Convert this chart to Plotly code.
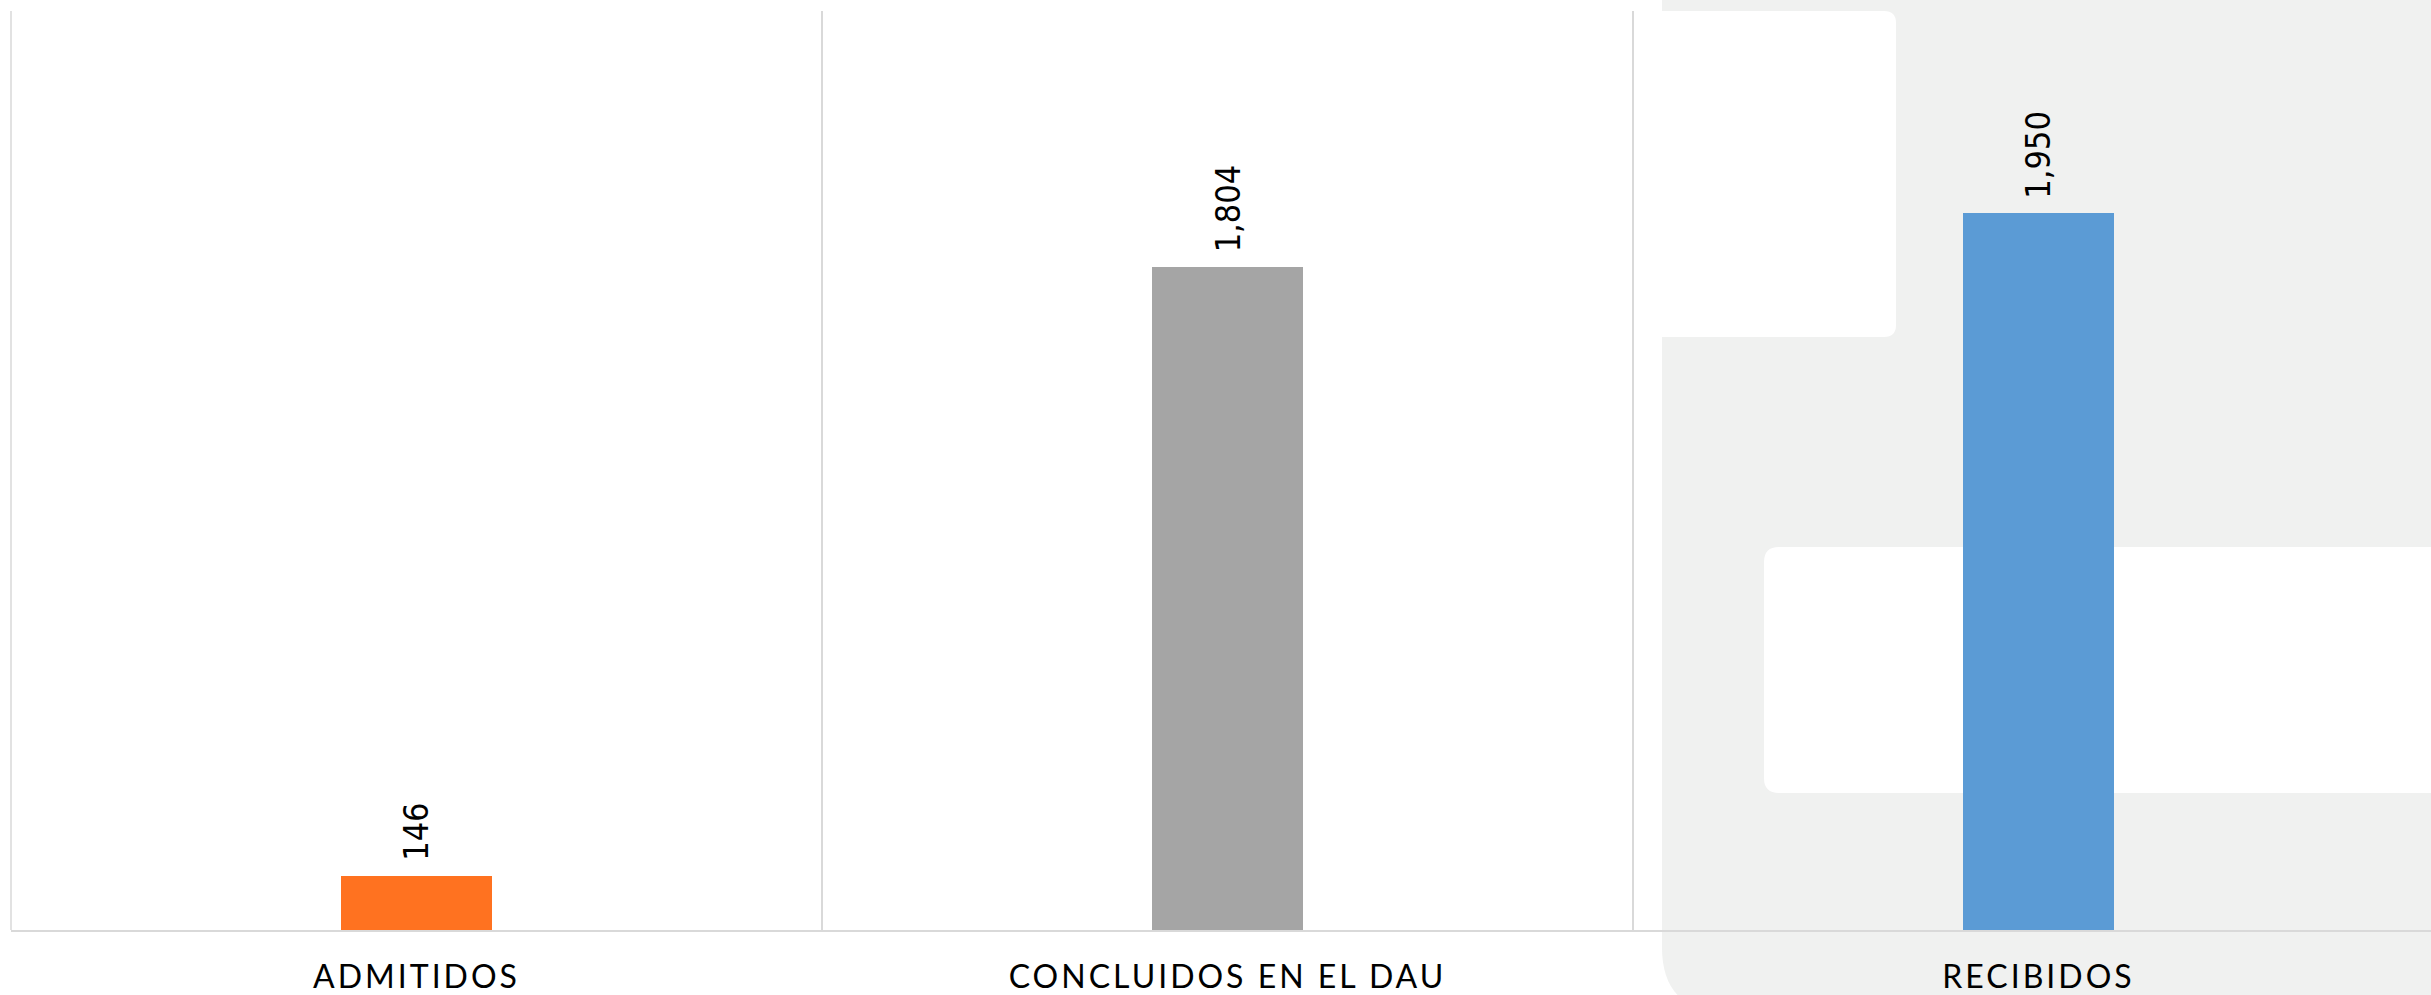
import plotly.graph_objects as go

categories = ["ADMITIDOS", "CONCLUIDOS EN EL DAU", "RECIBIDOS"]
values = [146, 1804, 1950]
labels = ["146", "1,804", "1,950"]
colors = ["#FF7220", "#A5A5A5", "#5B9BD5"]

W, H = 2431, 995
ML, MT, MB, MR = 11, 11, 65, 0
PW, PH = W - ML - MR, H - MT - MB


def P(x, y):
    return (x - ML) / PW, (H - MB - y) / PH


def rrect(x0, y0, x1, y1, r_tl=0, r_tr=0, r_br=0, r_bl=0):
    def pt(x, y):
        X, Y = P(x, y)
        return f"{X:.5f},{Y:.5f}"
    s = f"M{pt(x0 + r_tl, y0)} L{pt(x1 - r_tr, y0)} "
    if r_tr:
        s += f"Q{pt(x1, y0)} {pt(x1, y0 + r_tr)} "
    s += f"L{pt(x1, y1 - r_br)} "
    if r_br:
        s += f"Q{pt(x1, y1)} {pt(x1 - r_br, y1)} "
    s += f"L{pt(x0 + r_bl, y1)} "
    if r_bl:
        s += f"Q{pt(x0, y1)} {pt(x0, y1 - r_bl)} "
    s += f"L{pt(x0, y0 + r_tl)} "
    if r_tl:
        s += f"Q{pt(x0, y0)} {pt(x0 + r_tl, y0)} "
    return s + "Z"


BG_GRAY = "#F0F1F0"
GRID = "#D9D9D9"
shapes = [
    dict(type="path", xref="paper", yref="paper", layer="below",
         path=rrect(1662, -20, 2460, 1012, r_bl=65),
         fillcolor=BG_GRAY, line=dict(width=0)),
    dict(type="path", xref="paper", yref="paper", layer="below",
         path=rrect(1620, 11, 1896, 337, 12, 12, 12, 12),
         fillcolor="#FFFFFF", line=dict(width=0)),
    dict(type="path", xref="paper", yref="paper", layer="below",
         path=rrect(1764, 547, 2446, 793, 15, 15, 15, 15),
         fillcolor="#FFFFFF", line=dict(width=0)),
    dict(type="line", xref="paper", yref="paper", layer="below",
         x0=0, x1=0, y0=0, y1=1, line=dict(color=GRID, width=1.5)),
]

fig = go.Figure()
fig.add_trace(go.Bar(
    x=categories, y=values, marker=dict(color=colors, line=dict(width=0)),
    width=0.185, hoverinfo="skip", showlegend=False,
))

annotations = []
for c, v, t in zip(categories, values, labels):
    annotations.append(dict(
        x=c, y=v, xref="x", yref="y", text=t, showarrow=False,
        textangle=-90, yanchor="bottom", xanchor="center", yshift=13,
        font=dict(family="DejaVu Sans Condensed, DejaVu Sans", size=34, color="#000000"),
    ))

fig.update_layout(
    width=W, height=H,
    margin=dict(l=ML, r=MR, t=MT, b=MB, pad=0),
    paper_bgcolor="#FFFFFF", plot_bgcolor="rgba(0,0,0,0)",
    shapes=shapes, annotations=annotations,
    bargap=0,
    xaxis=dict(
        type="category", range=[-0.5, 2.484], tickson="boundaries",
        showgrid=True, gridcolor=GRID, gridwidth=1.5,
        showline=True, linecolor=GRID, linewidth=2,
        ticks="", tickfont=dict(family="Lato, Open Sans", size=32, color="#000000"),
        ticklabelstandoff=18, fixedrange=True,
    ),
    yaxis=dict(
        range=[0, 2500], showgrid=False, zeroline=False, showline=False,
        showticklabels=False, ticks="", fixedrange=True,
    ),
)

post = """
(function(){
  document.documentElement.style.margin='0';
  document.documentElement.style.padding='0';
  document.body.style.margin='0';
  document.body.style.padding='0';
  document.body.style.overflow='hidden';
  var gd = document.getElementById('{plot_id}');
  function ls(){ document.querySelectorAll('.xtick text').forEach(function(t){ t.style.letterSpacing='3px'; }); }
  ls();
  if (gd && gd.on) { gd.on('plotly_afterplot', ls); }
})();
"""

fig.write_html("out.html", post_script=post, config={"displayModeBar": False})
